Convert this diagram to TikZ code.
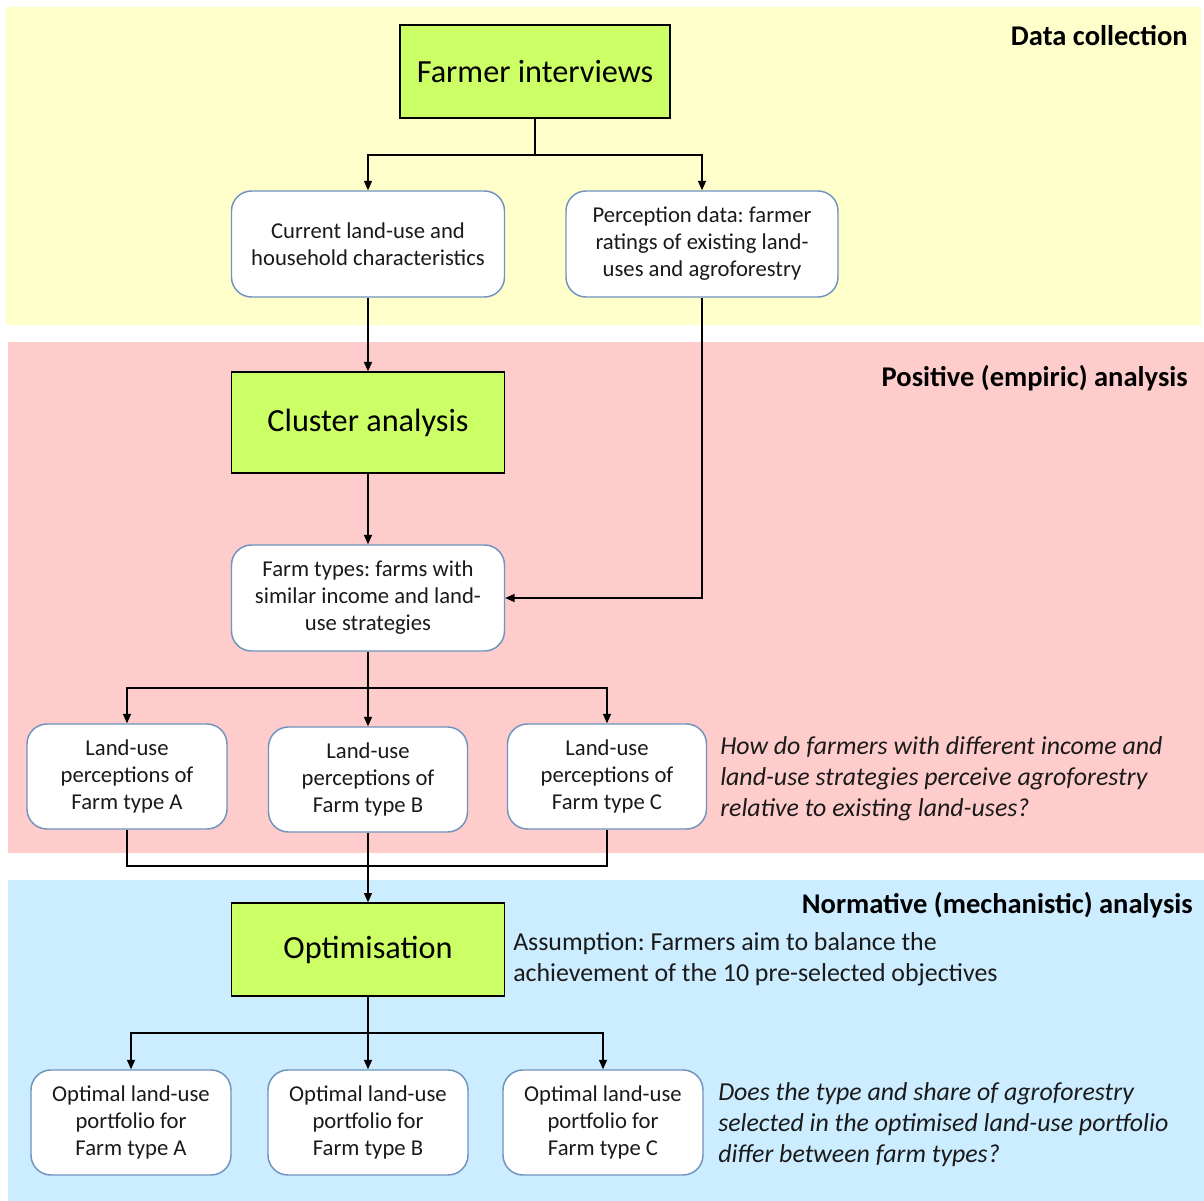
\documentclass[tikz,border=0pt]{standalone}
\usepackage{fontspec}
\setmainfont{Carlito}
\frenchspacing
\usetikzlibrary{arrows.meta}
\definecolor{bandY}{HTML}{FFFFCC}
\definecolor{bandP}{HTML}{FFCCCC}
\definecolor{bandB}{HTML}{CCECFF}
\definecolor{greenfill}{HTML}{CCFF66}
\definecolor{rborder}{RGB}{112,146,190}
\definecolor{txt}{HTML}{1A1A1A}
\tikzset{
  gbox/.style={draw=black, line width=1pt, fill=greenfill, inner sep=0pt,
    font=\fontsize{24.2}{28}\selectfont, text=black},
  rbox/.style={draw=rborder, line width=1.1pt, fill=white, rounded corners=15pt,
    inner sep=0pt, align=center, font=\fontsize{17}{20.25}\selectfont, text=txt},
  conn/.style={line width=1pt, black},
  arr/.style={conn, -{Triangle[length=7pt,width=6pt]}},
  hdr/.style={inner sep=0pt, font=\fontsize{21.4}{25}\selectfont\bfseries},
  note/.style={inner sep=0pt, align=left, font=\fontsize{19.4}{23.25}\selectfont, text=txt}
}
\begin{document}
\begin{tikzpicture}[x=0.75pt,y=-0.75pt]
\useasboundingbox (0,0) rectangle (1204,1201);
% bands
\fill[bandY] (6,7) rectangle (1201,325);
\fill[bandP] (8,342) rectangle (1204,853);
\fill[bandB] (8,880) rectangle (1204,1201);
% headers
\node[hdr, anchor=base east] (h1) at (1188,46) {Data collection};
\node[hdr, anchor=base east] (h2) at (1188,387) {Positive (empiric) analysis};
\node[hdr, anchor=base east] (h3) at (1193,913) {Normative (mechanistic) analysis};
% nodes
\node[gbox, minimum width=202.5pt, minimum height=69.75pt] (fi) at (535,71.5) {Farmer interviews};
\node[rbox, minimum width=204.75pt, minimum height=79.5pt] (cur) at (368,244) {Current land-use and\\household characteristics};
\node[rbox, minimum width=204pt, minimum height=79.5pt] (per) at (702,244) {Perception data: farmer\\ratings of existing land-\\uses and agroforestry};
\node[gbox, minimum width=204.75pt, minimum height=75.75pt] (clu) at (368,422.5) {Cluster analysis};
\node[rbox, minimum width=204.75pt, minimum height=79.5pt] (ft) at (368,598) {Farm types: farms with\\similar income and land-\\use strategies};
\node[rbox, minimum width=150pt, minimum height=78.75pt] (la) at (127,776.5) {Land-use\\perceptions of\\Farm type A};
\node[rbox, minimum width=149.25pt, minimum height=78.75pt] (lb) at (368,779.5) {Land-use\\perceptions of\\Farm type B};
\node[rbox, minimum width=149.25pt, minimum height=78.75pt] (lc) at (607,776.5) {Land-use\\perceptions of\\Farm type C};
\node[note, anchor=west] (q1) at (720,779) {\itshape How do farmers with different income and\\\itshape land-use strategies perceive agroforestry\\\itshape relative to existing land-uses?};
\node[gbox, minimum width=204.75pt, minimum height=69.75pt] (opt) at (368,949.5) {Optimisation};
\node[note, anchor=west] (as) at (513,959) {Assumption: Farmers aim to balance the\\achievement of the 10 pre-selected objectives};
\node[rbox, minimum width=150pt, minimum height=78.75pt] (oa) at (131,1122.5) {Optimal land-use\\portfolio for\\Farm type A};
\node[rbox, minimum width=150pt, minimum height=78.75pt] (ob) at (368,1122.5) {Optimal land-use\\portfolio for\\Farm type B};
\node[rbox, minimum width=150pt, minimum height=78.75pt] (oc) at (603,1122.5) {Optimal land-use\\portfolio for\\Farm type C};
\node[note, anchor=west] (q2) at (718,1125) {\itshape Does the type and share of agroforestry\\\itshape selected in the optimised land-use portfolio\\\itshape differ between farm types?};
% junctions
\coordinate (j1) at (535,155);
\coordinate (j2) at (368,688);
\coordinate (j3) at (368,866);
\coordinate (j4) at (368,1033);
% connectors
\draw[conn] (fi.south) -- (j1);
\draw[arr] (j1) -| (cur.north);
\draw[arr] (j1) -| (per.north);
\draw[arr] (cur.south) -- (clu.north);
\draw[arr] (clu.south) -- (ft.north);
\draw[arr] (per.south) |- (ft.east);
\draw[conn] (ft.south) -- (j2);
\draw[arr] (j2) -| (la.north);
\draw[arr] (j2) -- (lb.north);
\draw[arr] (j2) -| (lc.north);
\draw[conn] (la.south) |- (j3) -| (lc.south);
\draw[arr] (lb.south) -- (opt.north);
\draw[conn] (opt.south) -- (j4);
\draw[arr] (j4) -| (oa.north);
\draw[arr] (j4) -- (ob.north);
\draw[arr] (j4) -| (oc.north);
\end{tikzpicture}
\end{document}
